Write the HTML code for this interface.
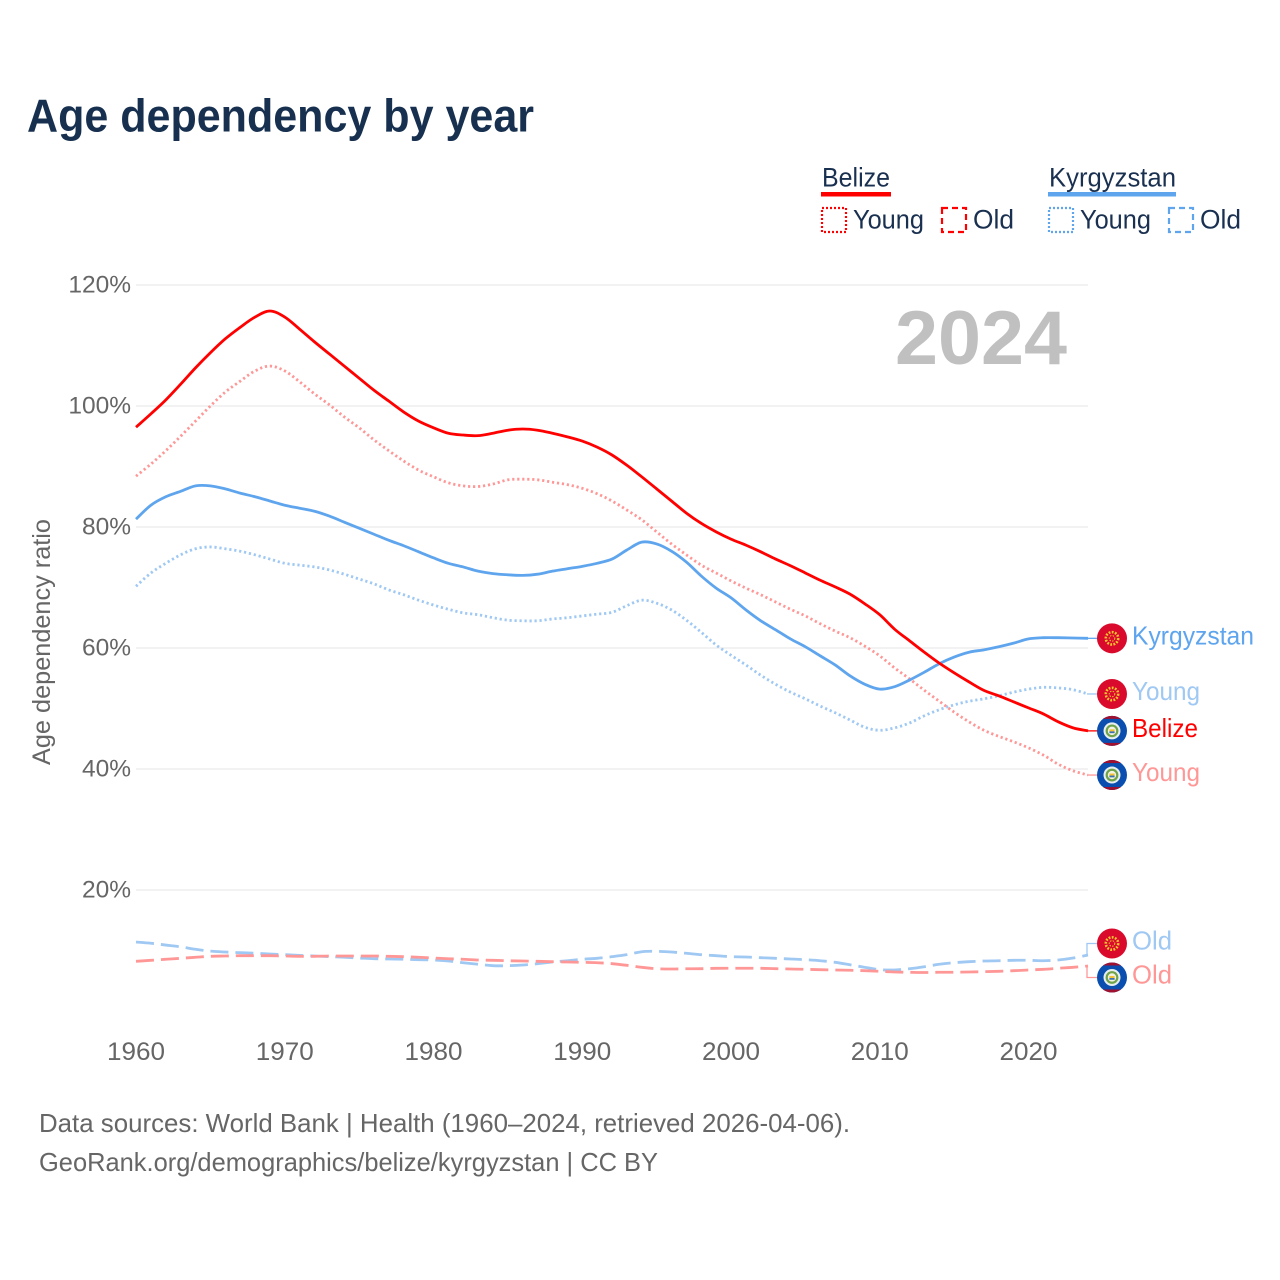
<!DOCTYPE html>
<html lang="en">
<head>
<meta charset="utf-8">
<title>Age dependency by year</title>
<style>
html,body{margin:0;padding:0;background:#fff;width:1280px;height:1280px;overflow:hidden}
svg{display:block;font-family:"Liberation Sans",sans-serif}
</style>
</head>
<body>
<svg id="chart" xmlns="http://www.w3.org/2000/svg" width="1280" height="1280" viewBox="0 0 1280 1280">
  <rect width="1280" height="1280" fill="#fff"/>
  <text x="27" y="131.5" font-size="46" font-weight="700" fill="#17304f" textLength="507" lengthAdjust="spacingAndGlyphs">Age dependency by year</text>

  <g font-size="27" fill="#1a3050">
    <g>
      <text x="822" y="186.5" textLength="68" lengthAdjust="spacingAndGlyphs">Belize</text>
      <rect x="821" y="192" width="70" height="4.5" fill="#ff0000"/>
      <rect x="822" y="208" width="24" height="24" fill="none" stroke="#ff0000" stroke-width="2.2" stroke-dasharray="2 2"/>
      <text x="853" y="228.5" textLength="71" lengthAdjust="spacingAndGlyphs">Young</text>
      <rect x="942" y="208" width="24" height="24" fill="none" stroke="#ff0000" stroke-width="2.2" stroke-dasharray="6 4"/>
      <text x="973" y="228.5" textLength="41" lengthAdjust="spacingAndGlyphs">Old</text>
    </g>
    <g>
      <text x="1049" y="186.5" textLength="127" lengthAdjust="spacingAndGlyphs">Kyrgyzstan</text>
      <rect x="1048" y="192" width="128" height="4.5" fill="#5ea5ee"/>
      <rect x="1049" y="208" width="24" height="24" fill="none" stroke="#5ea5ee" stroke-width="2.2" stroke-dasharray="2 2"/>
      <text x="1080" y="228.5" textLength="71" lengthAdjust="spacingAndGlyphs">Young</text>
      <rect x="1169" y="208" width="24" height="24" fill="none" stroke="#5ea5ee" stroke-width="2.2" stroke-dasharray="6 4"/>
      <text x="1200" y="228.5" textLength="41" lengthAdjust="spacingAndGlyphs">Old</text>
    </g>
  </g>

  <g id="grid"></g>
  <g id="yaxis"></g>
  <g id="xaxis"></g>

  <text x="895" y="364" font-size="76" font-weight="700" fill="#c0c0c0" textLength="172" lengthAdjust="spacingAndGlyphs">2024</text>

  <text transform="translate(50,642) rotate(-90)" text-anchor="middle" font-size="25" fill="#666" textLength="246" lengthAdjust="spacingAndGlyphs">Age dependency ratio</text>

  <g id="series"></g>
  <g id="endlabels"></g>

  <g font-size="26" fill="#666">
    <text x="39" y="1132" textLength="811" lengthAdjust="spacingAndGlyphs">Data sources: World Bank | Health (1960–2024, retrieved 2026-04-06).</text>
    <text x="39" y="1171" textLength="619" lengthAdjust="spacingAndGlyphs">GeoRank.org/demographics/belize/kyrgyzstan | CC BY</text>
  </g>
</svg>
<script>
const years = [1960,1961,1962,1963,1964,1965,1966,1967,1968,1969,
1970,1971,1972,1973,1974,1975,1976,1977,1978,1979,
1980,1981,1982,1983,1984,1985,1986,1987,1988,1989,
1990,1991,1992,1993,1994,1995,1996,1997,1998,1999,
2000,2001,2002,2003,2004,2005,2006,2007,2008,2009,
2010,2011,2012,2013,2014,2015,2016,2017,2018,2019,
2020,2021,2022,2023,2024];
const xTickLabels = [1960,1970,1980,1990,2000,2010,2020];
const yTickLabels = [20,40,60,80,100,120];

const belizeTotal = [96.5,98.7,101,103.6,106.3,108.8,111.1,113,114.7,115.7,
114.7,112.7,110.6,108.6,106.6,104.6,102.6,100.8,99,97.5,
96.4,95.5,95.2,95.1,95.5,96,96.2,96,95.5,94.9,
94.2,93.2,91.9,90.2,88.3,86.3,84.3,82.3,80.6,79.2,
78,77,75.9,74.7,73.6,72.4,71.2,70.1,68.9,67.3,
65.5,63.1,61.2,59.3,57.5,55.9,54.4,53,52.1,51.1,
50.1,49.1,47.8,46.8,46.3];
const belizeYoung = [88.4,90.4,92.6,95,97.5,100,102.3,104.1,105.8,106.6,
105.8,104,102,100.2,98.2,96.4,94.4,92.6,90.9,89.4,
88.3,87.3,86.8,86.7,87.1,87.8,87.9,87.8,87.4,87,
86.4,85.5,84.3,82.8,81.2,79.2,77.2,75.4,73.7,72.4,
71.1,69.9,68.8,67.6,66.4,65.3,64,62.8,61.7,60.3,
58.7,56.7,54.9,53,51.2,49.4,47.8,46.4,45.4,44.5,
43.5,42.3,40.8,39.7,39];
const belizeOld = [8.21,8.38,8.55,8.71,8.88,9.04,9.09,9.14,9.14,9.14,
9.09,9.04,9.04,9.09,9.09,9.09,9.09,9.04,8.98,8.88,
8.76,8.64,8.55,8.43,8.38,8.31,8.26,8.21,8.15,8.1,
8.05,7.98,7.82,7.55,7.22,6.99,6.94,6.98,6.99,7.06,
7.07,7.07,7.06,6.99,6.94,6.89,6.83,6.78,6.73,6.66,
6.56,6.45,6.4,6.36,6.4,6.41,6.45,6.5,6.56,6.66,
6.78,6.89,7.06,7.22,7.44];
const kyrgyzstanTotal = [81.3,83.6,85,85.9,86.8,86.8,86.3,85.6,85,84.3,
83.6,83.1,82.6,81.8,80.8,79.8,78.8,77.8,76.9,75.9,
74.9,74,73.4,72.7,72.3,72.1,72,72.2,72.7,73.1,
73.5,74,74.7,76.2,77.5,77.2,76,74.2,71.9,69.9,
68.3,66.3,64.5,63,61.5,60.2,58.7,57.2,55.4,54,
53.2,53.6,54.7,56,57.4,58.5,59.3,59.7,60.2,60.8,
61.5,61.7,61.7,61.65,61.6];
const kyrgyzstanYoung = [70.2,72.4,74,75.4,76.4,76.7,76.4,76,75.4,74.7,
74,73.7,73.4,72.9,72.2,71.4,70.6,69.6,68.8,67.9,
67.1,66.4,65.8,65.5,65,64.6,64.5,64.5,64.8,65,
65.3,65.6,65.9,67,67.9,67.4,66.3,64.6,62.6,60.5,
58.8,57.2,55.5,54,52.7,51.6,50.4,49.3,48.1,46.9,
46.4,46.8,47.6,48.8,49.8,50.6,51.2,51.6,52.1,52.7,
53.2,53.5,53.4,53.1,52.4];
const kyrgyzstanOld = [11.4,11.2,10.9,10.6,10.2,9.9,9.75,9.64,9.54,9.42,
9.31,9.2,9.09,8.98,8.88,8.76,8.64,8.6,8.55,8.48,
8.43,8.26,7.98,7.72,7.49,7.49,7.6,7.82,8.1,8.31,
8.55,8.71,8.98,9.31,9.8,9.87,9.75,9.54,9.31,9.14,
8.98,8.93,8.81,8.71,8.6,8.48,8.31,8.05,7.65,7.22,
6.83,6.78,6.99,7.32,7.72,7.98,8.15,8.26,8.31,8.38,
8.38,8.31,8.43,8.76,9.26];

const NS = 'http://www.w3.org/2000/svg';
const xScale = function (year) { return 136 + (year - 1960) * (1088 - 136) / (2024 - 1960); };
const yScale = function (value) { return 1011 - value * 6.05; };

function make(tag, parent) {
  const el = document.createElementNS(NS, tag);
  parent.appendChild(el);
  return el;
}

/* Catmull-Rom smoothing through the data points */
function smoothPath(values) {
  const pts = values.map(function (v, i) { return [xScale(years[i]), yScale(v)]; });
  let d = 'M' + pts[0][0].toFixed(2) + ',' + pts[0][1].toFixed(2);
  for (let i = 0; i < pts.length - 1; i++) {
    const p0 = pts[Math.max(i - 1, 0)], p1 = pts[i], p2 = pts[i + 1], p3 = pts[Math.min(i + 2, pts.length - 1)];
    const c1x = p1[0] + (p2[0] - p0[0]) / 6, c1y = p1[1] + (p2[1] - p0[1]) / 6;
    const c2x = p2[0] - (p3[0] - p1[0]) / 6, c2y = p2[1] - (p3[1] - p1[1]) / 6;
    d += 'C' + c1x.toFixed(2) + ',' + c1y.toFixed(2) + ' ' + c2x.toFixed(2) + ',' + c2y.toFixed(2) + ' ' + p2[0].toFixed(2) + ',' + p2[1].toFixed(2);
  }
  return d;
}

const grid = document.getElementById('grid');
const yaxis = document.getElementById('yaxis');
const xaxis = document.getElementById('xaxis');
const seriesGroup = document.getElementById('series');
const endLabels = document.getElementById('endlabels');

yTickLabels.forEach(function (v) {
  const line = make('line', grid);
  
  
  line.setAttribute('x1', 136);
  line.setAttribute('x2', 1088);
  line.setAttribute('y1', yScale(v));
  line.setAttribute('y2', yScale(v));
  line.setAttribute('stroke', '#e9e9e9');
  line.setAttribute('stroke-width', '1.2');
  const t = make('text', yaxis);
  
  
  t.setAttribute('x', 131);
  t.setAttribute('y', yScale(v) + 7.5);
  t.setAttribute('text-anchor', 'end');
  t.setAttribute('font-size', '24.5');
  t.setAttribute('fill', '#666');
  t.textContent = v + '%';
});

xTickLabels.forEach(function (y) {
  const t = make('text', xaxis);
  
  
  t.setAttribute('x', xScale(y));
  t.setAttribute('y', 1060);
  t.setAttribute('text-anchor', 'middle');
  t.setAttribute('font-size', '25');
  t.setAttribute('fill', '#666');
  t.setAttribute('textLength', '58');
  t.setAttribute('lengthAdjust', 'spacingAndGlyphs');
  t.textContent = y;
});

const RED = '#ff0000', BLUE = '#5ea5ee', RED_LIGHT = '#ff9797', BLUE_LIGHT = '#9fc8f3';
const seriesList = [
  { values: kyrgyzstanOld, key: 'kyrgyzstan-old', color: BLUE_LIGHT, dash: '18 7', label: 'Old', width: 40, country: 'kg' },
  { values: belizeOld, key: 'belize-old', color: RED_LIGHT, dash: '18 7', label: 'Old', width: 40, country: 'bz' },
  { values: kyrgyzstanYoung, key: 'kyrgyzstan-young', color: BLUE_LIGHT, dash: '2.2 2.8', label: 'Young', width: 68, country: 'kg' },
  { values: belizeYoung, key: 'belize-young', color: RED_LIGHT, dash: '2.2 2.8', label: 'Young', width: 68, country: 'bz' },
  { values: kyrgyzstanTotal, key: 'kyrgyzstan-total', color: BLUE, dash: '', label: 'Kyrgyzstan', width: 122, country: 'kg' },
  { values: belizeTotal, key: 'belize-total', color: RED, dash: '', label: 'Belize', width: 66, country: 'bz' }
];

seriesList.forEach(function (s) {
  const p = make('path', seriesGroup);
  
  
  p.setAttribute('d', smoothPath(s.values));
  p.setAttribute('fill', 'none');
  p.setAttribute('stroke', s.color);
  p.setAttribute('stroke-width', '2.8');
  p.setAttribute('stroke-linejoin', 'round');
  if (s.dash) p.setAttribute('stroke-dasharray', s.dash);
});

/* Separate end labels so the flags (30px) never overlap */
const MIN_GAP = 34;
const placed = seriesList.map(function (s) {
  const end = yScale(s.values[s.values.length - 1]);
  return { s: s, end: end, y: end };
}).sort(function (a, b) { return a.end - b.end; });
for (let iter = 0; iter < 40; iter++) {
  for (let i = 1; i < placed.length; i++) {
    const gap = placed[i].y - placed[i - 1].y;
    if (gap < MIN_GAP) {
      const shift = (MIN_GAP - gap) / 2;
      placed[i - 1].y -= shift;
      placed[i].y += shift;
    }
  }
}

const clipDef = make('defs', endLabels);
const clip = make('clipPath', clipDef);
clip.setAttribute('id', 'flag-clip');
const clipCircle = make('circle', clip);
clipCircle.setAttribute('cx', 0);
clipCircle.setAttribute('cy', 0);
clipCircle.setAttribute('r', 15);

function drawKg(g) {
  const bg = make('rect', g);
  bg.setAttribute('x', -16); bg.setAttribute('y', -16);
  bg.setAttribute('width', 32); bg.setAttribute('height', 32);
  bg.setAttribute('fill', '#da0a2c');
  const rays = make('circle', g);
  rays.setAttribute('r', 6.2);
  rays.setAttribute('fill', 'none');
  rays.setAttribute('stroke', '#f6c52e');
  rays.setAttribute('stroke-width', '2.6');
  rays.setAttribute('stroke-dasharray', '1.8 1.4');
  const ring = make('circle', g);
  ring.setAttribute('r', 2.8);
  ring.setAttribute('fill', '#da0a2c');
  ring.setAttribute('stroke', '#f6c52e');
  ring.setAttribute('stroke-width', '1');
  ring.setAttribute('stroke-dasharray', '1.5 1.2');
}
function drawBz(g) {
  const bg = make('rect', g);
  bg.setAttribute('x', -16); bg.setAttribute('y', -16);
  bg.setAttribute('width', 32); bg.setAttribute('height', 32);
  bg.setAttribute('fill', '#0a4fb0');
  const top = make('rect', g);
  top.setAttribute('x', -16); top.setAttribute('y', -16);
  top.setAttribute('width', 32); top.setAttribute('height', 4);
  top.setAttribute('fill', '#a0102f');
  const bottom = make('rect', g);
  bottom.setAttribute('x', -16); bottom.setAttribute('y', 12);
  bottom.setAttribute('width', 32); bottom.setAttribute('height', 4);
  bottom.setAttribute('fill', '#a0102f');
  const disc = make('circle', g);
  disc.setAttribute('r', 8.5);
  disc.setAttribute('fill', '#e8eef0');
  const leaf = make('circle', g);
  leaf.setAttribute('r', 6.4);
  leaf.setAttribute('fill', '#6fa34a');
  const inner = make('circle', g);
  inner.setAttribute('r', 4.2);
  inner.setAttribute('fill', '#f2f2e6');
  const shield = make('rect', g);
  shield.setAttribute('x', -2.6); shield.setAttribute('y', -1.5);
  shield.setAttribute('width', 5.2); shield.setAttribute('height', 2);
  shield.setAttribute('fill', '#f2c230');
  const shield2 = make('rect', g);
  shield2.setAttribute('x', -2.6); shield2.setAttribute('y', 0.5);
  shield2.setAttribute('width', 5.2); shield2.setAttribute('height', 1.8);
  shield2.setAttribute('fill', '#3a6fb0');
}

placed.forEach(function (item) {
  const s = item.s;
  const conn = make('path', endLabels);
  
  
  conn.setAttribute('d', 'M1087,' + item.end.toFixed(2) + 'V' + item.y.toFixed(2) + 'H1098');
  conn.setAttribute('fill', 'none');
  conn.setAttribute('stroke', s.color);
  conn.setAttribute('stroke-width', '1.3');

  const flag = make('g', endLabels);
  
  
  flag.setAttribute('transform', 'translate(1112,' + item.y.toFixed(2) + ')');
  flag.setAttribute('clip-path', 'url(#flag-clip)');
  if (s.country === 'kg') drawKg(flag); else drawBz(flag);

  const t = make('text', endLabels);
  
  
  t.setAttribute('x', 1132);
  t.setAttribute('y', item.y + 6);
  t.setAttribute('font-size', '26');
  t.setAttribute('fill', s.color);
  t.setAttribute('textLength', s.width);
  t.setAttribute('lengthAdjust', 'spacingAndGlyphs');
  t.textContent = s.label;
});
</script>
</body>
</html>
